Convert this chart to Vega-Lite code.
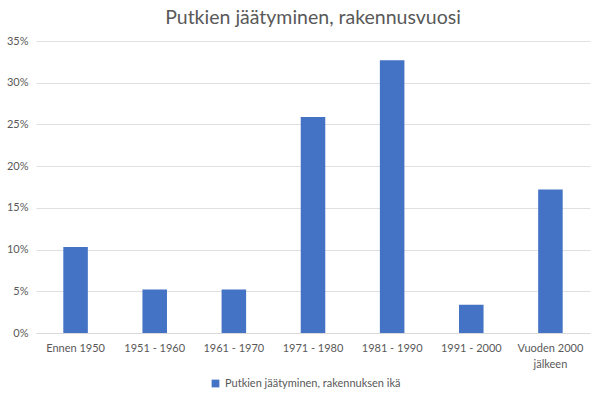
{
  "$schema": "https://vega.github.io/schema/vega-lite/v6.json",
  "width": 554,
  "height": 292,
  "autosize": {"type": "none"},
  "padding": {"left": 36, "top": 41, "right": 10, "bottom": 66},
  "background": "white",
  "title": {
    "text": "Putkien jäätyminen, rakennusvuosi",
    "font": "Lato",
    "fontSize": 19.5,
    "fontWeight": "normal",
    "color": "#595959",
    "anchor": "middle",
    "offset": 7
  },
  "config": {
    "view": {"stroke": null},
    "font": "Lato"
  },
  "data": {
    "values": [
      {"kausi": "Ennen 1950", "osuus": 0.103, "sarja": "Putkien jäätyminen, rakennuksen ikä"},
      {"kausi": "1951 - 1960", "osuus": 0.052, "sarja": "Putkien jäätyminen, rakennuksen ikä"},
      {"kausi": "1961 - 1970", "osuus": 0.052, "sarja": "Putkien jäätyminen, rakennuksen ikä"},
      {"kausi": "1971 - 1980", "osuus": 0.259, "sarja": "Putkien jäätyminen, rakennuksen ikä"},
      {"kausi": "1981 - 1990", "osuus": 0.327, "sarja": "Putkien jäätyminen, rakennuksen ikä"},
      {"kausi": "1991 - 2000", "osuus": 0.034, "sarja": "Putkien jäätyminen, rakennuksen ikä"},
      {"kausi": "Vuoden 2000 jälkeen", "osuus": 0.172, "sarja": "Putkien jäätyminen, rakennuksen ikä"}
    ]
  },
  "mark": {"type": "bar"},
  "encoding": {
    "x": {
      "field": "kausi",
      "type": "nominal",
      "sort": null,
      "scale": {"paddingInner": 0.69, "paddingOuter": 0.345},
      "axis": {
        "title": null,
        "labelAngle": 0,
        "ticks": false,
        "domainColor": "#d9d9d9",
        "labelColor": "#595959",
        "labelFontSize": 11,
        "labelPadding": 9,
        "labelLineHeight": 16,
        "labelExpr": "datum.label == 'Vuoden 2000 jälkeen' ? ['Vuoden 2000', 'jälkeen'] : datum.label"
      }
    },
    "y": {
      "field": "osuus",
      "type": "quantitative",
      "scale": {"domain": [0, 0.35], "nice": false},
      "axis": {
        "title": null,
        "format": ".0%",
        "values": [0, 0.05, 0.1, 0.15, 0.2, 0.25, 0.3, 0.35],
        "domain": false,
        "ticks": false,
        "gridColor": "#e0e0e0",
        "labelColor": "#595959",
        "labelFontSize": 11,
        "labelPadding": 8
      }
    },
    "color": {
      "field": "sarja",
      "type": "nominal",
      "scale": {"range": ["#4472C4"]},
      "legend": {
        "title": null,
        "orient": "none",
        "legendX": 174,
        "legendY": 337,
        "symbolType": "square",
        "symbolSize": 60,
        "labelColor": "#595959",
        "labelFontSize": 11,
        "labelOffset": 4,
        "labelLimit": 400
      }
    }
  }
}
